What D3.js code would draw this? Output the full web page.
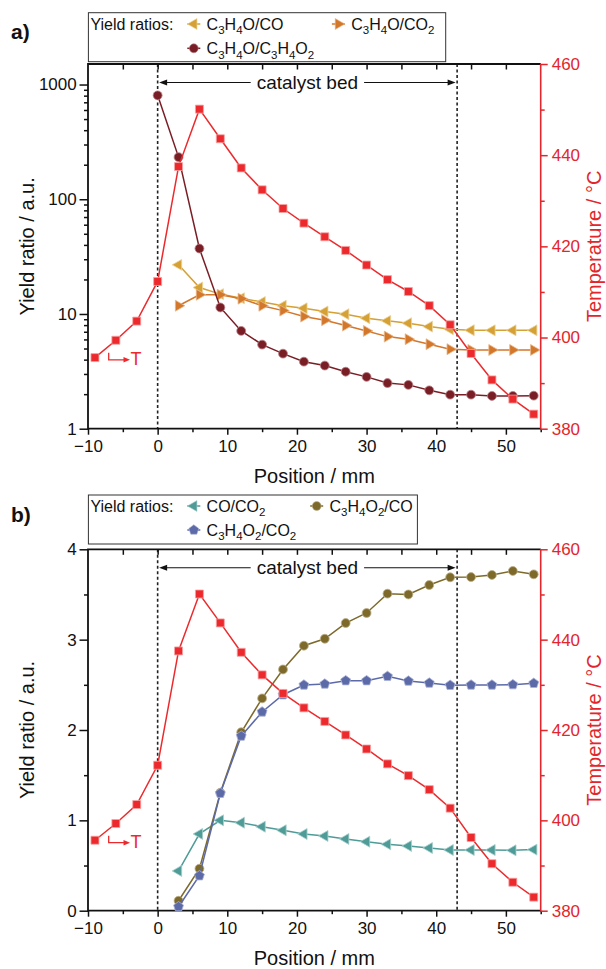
<!DOCTYPE html>
<html><head><meta charset="utf-8">
<script src="https://cdn.jsdelivr.net/npm/d3@7"></script>
<style>
body{margin:0;background:#fff}
svg{display:block}
text{font-family:Arial,"Liberation Sans",sans-serif}
</style>
</head><body>
<svg id="chart" width="606" height="969"></svg>
<script>
// ---------------- data ----------------
const positionT = [-9,-6,-3,0,3,6,9,12,15,18,21,24,27,30,33,36,39,42,45,48,51,54];
const temperatureA = [395.6,399.4,403.6,412.3,437.5,450.1,443.6,437.2,432.4,428.3,425.1,422.1,419.1,415.9,412.7,410.1,407.0,402.8,396.5,390.7,386.5,383.2];
const temperatureB = [395.6,399.3,403.5,412.2,437.5,450.1,443.7,437.2,432.2,428.1,424.9,421.9,418.9,415.8,412.5,409.9,406.8,402.7,396.2,390.4,386.3,383.0];

const positionBed = [0,3,6,9,12,15,18,21,24,27,30,33,36,39,42,45,48,51,54];
const positionR = [3,6,9,12,15,18,21,24,27,30,33,36,39,42,45,48,51,54];

// panel a
const c3h4o_co = [26.8,17.0,14.9,13.7,12.7,11.8,11.2,10.5,9.96,9.19,8.71,8.31,7.76,7.37,7.22,7.2,7.2,7.2];
const c3h4o_co2 = [11.8,14.7,14.7,13.6,11.8,10.7,9.49,8.83,7.92,7.12,6.35,6.03,5.45,4.93,4.86,4.86,4.86,4.86];
const c3h4o_c3h4o2 = [805,233,37.2,11.4,7.12,5.41,4.51,3.84,3.55,3.14,2.83,2.50,2.41,2.16,1.98,1.98,1.93,1.93,1.94];

// panel b
const co_co2 = [0.44,0.85,1.00,0.974,0.93,0.89,0.849,0.827,0.794,0.764,0.735,0.716,0.694,0.672,0.672,0.672,0.668,0.676];
const c3h4o2_co = [0.11,0.465,1.306,1.975,2.35,2.67,2.933,3.01,3.184,3.295,3.509,3.50,3.605,3.69,3.693,3.716,3.76,3.723];
const c3h4o2_co2 = [0.044,0.387,1.30,1.933,2.20,2.39,2.498,2.509,2.546,2.546,2.594,2.542,2.52,2.495,2.498,2.498,2.502,2.517];

// ticks
const xMajorTicks = [-10,0,10,20,30,40,50];
const xMinorTicks = [-5,5,15,25,35,45,55];
const yLogTicks = [1,10,100,1000];
const yLogMinor = [2,3,4,5,6,7,8,9,20,30,40,50,60,70,80,90,200,300,400,500,600,700,800,900];
const yLinTicks = [0,1,2,3,4];
const yLinMinor = [0.5,1.5,2.5,3.5];
const tempTicks = [380,400,420,440,460];
const tempMinor = [390,410,430,450];
const bedStart = 0, bedEnd = 43;

// ---------------- style ----------------
const RED = "#ec2a2d", RED_AX = "#e3262b";
const GOLD = "#d5a034", ORANGE = "#d3772b", DARKRED = "#7a1e26";
const TEAL = "#4f9b97", OLIVE = "#7d6a2b", BLUE = "#5c6aa8";

const svg = d3.select("#chart");
const L = 88, R = 540.7;
const x = d3.scaleLinear().domain([-10,55]).range([L,R]);

function symPath(type){
  if(type==="square") return d3.symbol(d3.symbolSquare,64)();
  if(type==="circle") return d3.symbol(d3.symbolCircle,62)();
  if(type==="triL"||type==="triR") return d3.symbol(d3.symbolTriangle,52)();
  if(type==="pent"){
    const r=5.2, pts=[];
    for(let k=0;k<5;k++){const a=(-90+72*k)*Math.PI/180;pts.push([r*Math.cos(a),r*Math.sin(a)]);}
    return "M"+pts.map(p=>p.join(",")).join("L")+"Z";
  }
}
function symRot(type){ return type==="triL"?-90:(type==="triR"?90:0); }

function formula(sel, str, fs){
  const parts = str.match(/\d+|\D+/g);
  let shifted=false;
  parts.forEach(p=>{
    const t = sel.append("tspan").text(p);
    if(/\d/.test(p)){ t.attr("font-size",fs*0.72).attr("dy", shifted?0:fs*0.3); shifted=true; }
    else { t.attr("font-size",fs).attr("dy", shifted?-fs*0.3:0); shifted=false; }
  });
}

function drawSeries(g, xs, ys, yScale, color, type, stroke){
  const line = d3.line().x((d,i)=>x(xs[i])).y(d=>yScale(d));
  g.append("path").datum(ys).attr("d",line).attr("fill","none")
    .attr("stroke",color).attr("stroke-width",1.5);
  g.selectAll(null).data(ys).enter().append("path")
    .attr("d",symPath(type))
    .attr("transform",(d,i)=>`translate(${x(xs[i])},${yScale(d)}) rotate(${symRot(type)})`)
    .attr("fill",color).attr("stroke",stroke).attr("stroke-width",0.8);
}

function drawPanel(cfg){
  const {top,bottom,y,yTicks,yMinor,yFmt,series,temps,legend,label,legendBox} = cfg;
  const g = svg.append("g");
  const yT = d3.scaleLinear().domain([380,460]).range([bottom,top]);

  // legend
  g.append("rect").attr("x",legendBox[0]).attr("y",legendBox[1])
    .attr("width",legendBox[2]-legendBox[0]).attr("height",legendBox[3]-legendBox[1])
    .attr("fill","#fff").attr("stroke","#333").attr("stroke-width",1);
  g.append("text").attr("x",legendBox[0]+2).attr("y",legendBox[1]+17)
    .attr("font-size",16).attr("fill","#111").text("Yield ratios:");
  legend.forEach(e=>{
    g.append("line").attr("x1",e.x-6.5).attr("x2",e.x+6.5).attr("y1",e.y).attr("y2",e.y)
      .attr("stroke",e.color).attr("stroke-width",1.5);
    g.append("path").attr("d",symPath(e.type))
      .attr("transform",`translate(${e.x},${e.y}) rotate(${symRot(e.type)})`)
      .attr("fill",e.color).attr("stroke",e.stroke).attr("stroke-width",0.6);
    const t = g.append("text").attr("x",e.x+12.8).attr("y",e.y+5.5).attr("fill","#111");
    formula(t,e.name,16);
  });

  // panel label
  g.append("text").attr("x",11).attr("y",label.y).attr("font-size",21)
    .attr("font-weight","bold").attr("fill","#111").text(label.text);

  // catalyst bed dashed lines
  [bedStart,bedEnd].forEach(v=>{
    g.append("line").attr("x1",x(v)).attr("x2",x(v)).attr("y1",top).attr("y2",bottom)
      .attr("stroke","#222").attr("stroke-width",1.6).attr("stroke-dasharray","3,2.5");
  });
  // catalyst bed arrow
  const ay = top + 18.5;
  const txt = g.append("text").attr("x",x((bedStart+bedEnd)/2)).attr("y",ay+6.3)
    .attr("text-anchor","middle").attr("font-size",19).attr("fill","#111").text("catalyst bed");
  const tw = txt.node().getComputedTextLength();
  const cx = x((bedStart+bedEnd)/2);
  const xl = x(bedStart)+1.5, xr = x(bedEnd)-1.5;
  g.append("line").attr("x1",xl+6).attr("x2",cx-tw/2-6).attr("y1",ay).attr("y2",ay).attr("stroke","#111").attr("stroke-width",1.1);
  g.append("line").attr("x1",cx+tw/2+6).attr("x2",xr-6).attr("y1",ay).attr("y2",ay).attr("stroke","#111").attr("stroke-width",1.1);
  g.append("path").attr("d",`M${xl},${ay}L${xl+8},${ay-3}L${xl+8},${ay+3}Z`).attr("fill","#111");
  g.append("path").attr("d",`M${xr},${ay}L${xr-8},${ay-3}L${xr-8},${ay+3}Z`).attr("fill","#111");

  // axes ticks
  const fs = 17;
  const axB = g.append("g").attr("transform",`translate(0,${bottom})`)
    .call(d3.axisBottom(x).tickValues(xMajorTicks).tickSize(6).tickPadding(5.5).tickSizeOuter(0));
  g.append("g").attr("transform",`translate(0,${bottom})`)
    .call(d3.axisBottom(x).tickValues(xMinorTicks).tickSize(3.5).tickFormat("").tickSizeOuter(0));
  g.append("g").attr("transform",`translate(0,${top})`)
    .call(d3.axisBottom(x).tickValues(xMajorTicks.concat(xMinorTicks).filter(v=>v>-10&&v<55)).tickSize(5.5).tickFormat("").tickSizeOuter(0));
  const axL = g.append("g").attr("transform",`translate(${L},0)`)
    .call(d3.axisLeft(y).tickValues(yTicks).tickFormat(yFmt).tickSize(8.5).tickPadding(2.8).tickSizeOuter(0));
  g.append("g").attr("transform",`translate(${L},0)`)
    .call(d3.axisLeft(y).tickValues(yMinor).tickFormat("").tickSize(4).tickSizeOuter(0));
  const axR = g.append("g").attr("transform",`translate(${R},0)`)
    .call(d3.axisRight(yT).tickValues(tempTicks).tickSize(7).tickPadding(4).tickSizeOuter(0));
  const axR2 = g.append("g").attr("transform",`translate(${R},0)`)
    .call(d3.axisRight(yT).tickValues(tempMinor).tickFormat("").tickSize(4).tickSizeOuter(0));
  g.selectAll(".domain").remove();
  g.selectAll(".tick line").attr("stroke","#111").attr("stroke-width",1.5);
  [axB,axL,axR].forEach(a=>a.attr("font-size",fs).attr("font-family","Arial, 'Liberation Sans', sans-serif"));
  g.selectAll(".tick text").attr("fill","#111");
  axR.selectAll(".tick text").attr("fill",RED_AX);
  axR.selectAll(".tick line").attr("stroke",RED_AX);
  axR2.selectAll(".tick line").attr("stroke",RED_AX);

  // frame
  g.append("path").attr("d",`M${R},${top}H${L}V${bottom}H${R}`).attr("fill","none")
    .attr("stroke","#111").attr("stroke-width",1.8);
  g.append("line").attr("x1",R).attr("x2",R).attr("y1",top).attr("y2",bottom)
    .attr("stroke",RED_AX).attr("stroke-width",1.6);

  // axis titles
  g.append("text").attr("x",(L+R)/2).attr("y",bottom+54.5).attr("text-anchor","middle")
    .attr("font-size",20).attr("fill","#111").text("Position / mm");
  g.append("text").attr("transform",`translate(34,${(top+bottom)/2}) rotate(-90)`)
    .attr("text-anchor","middle").attr("font-size",20).attr("fill","#111").text("Yield ratio / a.u.");
  g.append("text").attr("transform",`translate(601,${(top+bottom)/2}) rotate(-90)`)
    .attr("text-anchor","middle").attr("font-size",20).attr("fill",RED_AX).text("Temperature / °C");

  // series
  series.forEach(s=>drawSeries(g,s.xs,s.ys,y,s.color,s.type,s.stroke));
  drawSeries(g,positionT,temps,yT,RED,"square","#f6a3a3");

  // T annotation
  const ty = cfg.tY;
  g.append("path").attr("d",`M108.7,${ty-7}V${ty}H125`).attr("fill","none").attr("stroke",RED).attr("stroke-width",1.3);
  g.append("path").attr("d",`M130,${ty}L123.5,${ty-2.8}L123.5,${ty+2.8}Z`).attr("fill",RED);
  g.append("text").attr("x",130.5).attr("y",ty+5.5).attr("font-size",18).attr("fill",RED).text("T");
}

// panel a
const yA = d3.scaleLog().domain([1,1510]).range([428.7,64]);
drawPanel({
  top:64, bottom:428.7, y:yA, yTicks:yLogTicks, yMinor:yLogMinor, yFmt:d3.format("d"),
  temps:temperatureA, tY:359.8,
  label:{text:"a)",y:39},
  legendBox:[88.4,12.7,445.7,61.7],
  legend:[
    {x:193.8,y:24,name:"C3H4O/CO",color:GOLD,type:"triL",stroke:"#ecd39a"},
    {x:338.4,y:24,name:"C3H4O/CO2",color:ORANGE,type:"triR",stroke:"#eab98c"},
    {x:193.8,y:48.3,name:"C3H4O/C3H4O2",color:DARKRED,type:"circle",stroke:"#b98088"}
  ],
  series:[
    {xs:positionR,ys:c3h4o_co,color:GOLD,type:"triL",stroke:"#ecd39a"},
    {xs:positionR,ys:c3h4o_co2,color:ORANGE,type:"triR",stroke:"#eab98c"},
    {xs:positionBed,ys:c3h4o_c3h4o2,color:DARKRED,type:"circle",stroke:"#b98088"}
  ]
});

// panel b
const yB = d3.scaleLinear().domain([0,4]).range([910.7,549.3]);
drawPanel({
  top:549.3, bottom:910.7, y:yB, yTicks:yLinTicks, yMinor:yLinMinor, yFmt:d3.format("d"),
  temps:temperatureB, tY:842.7,
  label:{text:"b)",y:522},
  legendBox:[88.4,495,417.4,544],
  legend:[
    {x:193.8,y:506,name:"CO/CO2",color:TEAL,type:"triL",stroke:"#a9d0ce"},
    {x:316.7,y:506,name:"C3H4O2/CO",color:OLIVE,type:"circle",stroke:"#bdb08a"},
    {x:193.8,y:530,name:"C3H4O2/CO2",color:BLUE,type:"pent",stroke:"#a9b1d6"}
  ],
  series:[
    {xs:positionR,ys:co_co2,color:TEAL,type:"triL",stroke:"#a9d0ce"},
    {xs:positionR,ys:c3h4o2_co,color:OLIVE,type:"circle",stroke:"#bdb08a"},
    {xs:positionR,ys:c3h4o2_co2,color:BLUE,type:"pent",stroke:"#a9b1d6"}
  ]
});
</script>
</body></html>
